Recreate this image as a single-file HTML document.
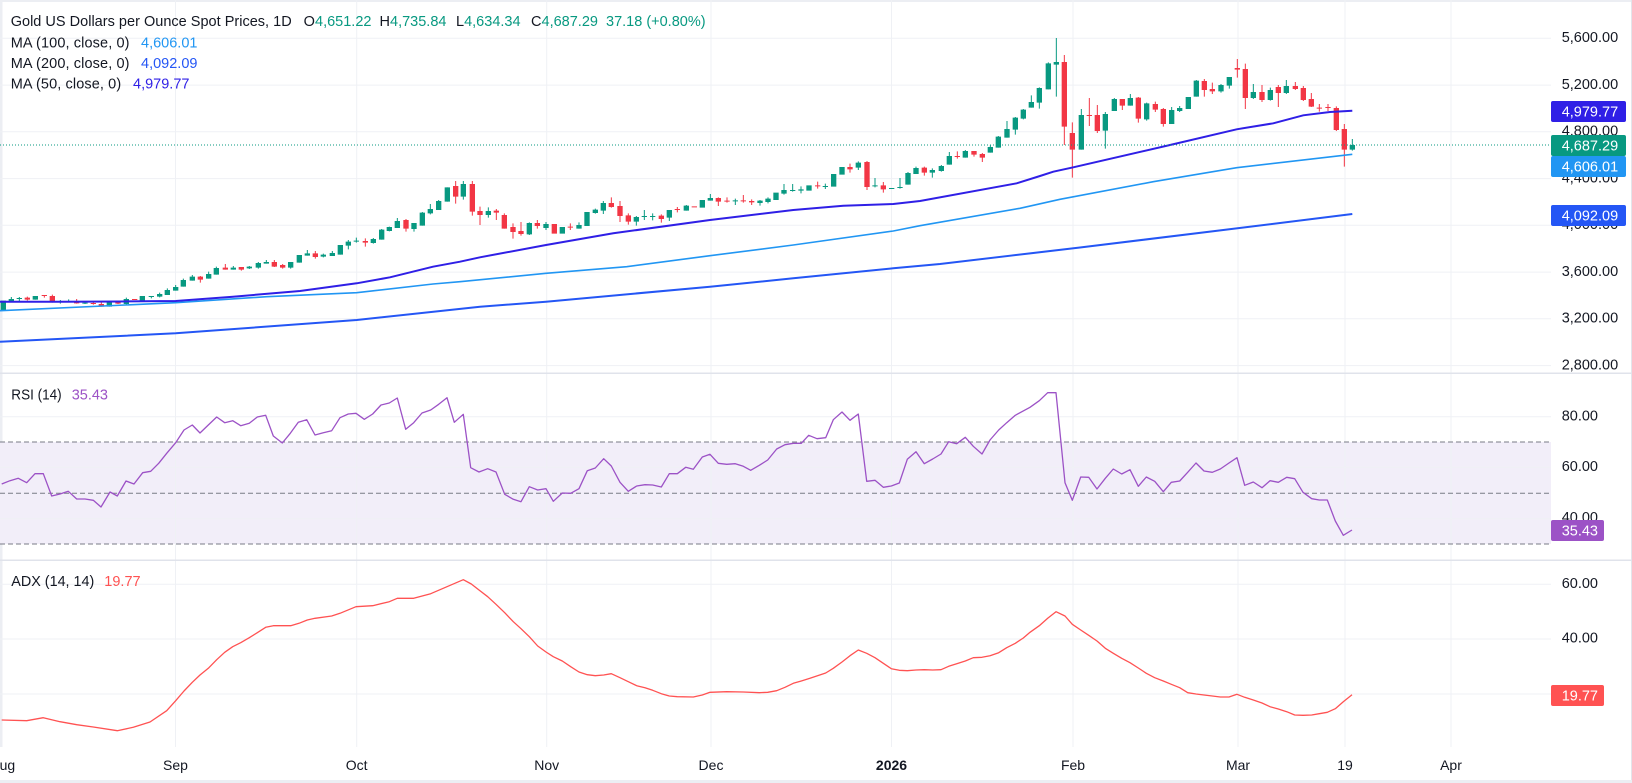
<!DOCTYPE html>
<html><head><meta charset="utf-8"><style>
html,body{margin:0;padding:0;background:#fff;overflow:hidden;width:1632px;height:783px}
svg{display:block}
text{font-family:"Liberation Sans",Arial,sans-serif}
</style></head><body>
<svg width="1632" height="783" viewBox="0 0 1632 783" xmlns="http://www.w3.org/2000/svg">
<rect x="0" y="0" width="1632" height="783" fill="#fff"/>
<!-- frame -->
<rect x="0" y="0" width="1632" height="2" fill="#eceef3"/>
<rect x="1631" y="0" width="1" height="783" fill="#e3e5eb"/>
<rect x="0" y="780" width="1632" height="3" fill="#eceef3"/>
<rect x="0" y="0" width="2.5" height="747" fill="#eceef3"/>
<!-- RSI band -->
<rect x="0" y="442" width="1551" height="102" fill="#f2eef9"/>
<!-- grid -->
<g stroke="#eff1f5" stroke-width="1">
<path d="M0,38.3H1551M0,85.1H1551M0,131.8H1551M0,178.6H1551M0,225.3H1551M0,272.1H1551M0,318.8H1551M0,365.6H1551"/>
<path d="M0,416.7H1551M0,467.3H1551M0,518.7H1551"/>
<path d="M0,584.3H1551M0,639H1551M0,694H1551"/>
<path d="M175.5,0V747M356.7,0V747M546.7,0V747M711,0V747M891.5,0V747M1073,0V747M1238,0V747M1345,0V747M1451,0V747"/>
</g>
<!-- RSI dashed levels -->
<g stroke="#787b86" stroke-width="1" stroke-dasharray="5,3">
<path d="M0,442H1551M0,493.3H1551M0,544H1551"/>
</g>
<!-- panel separators -->
<rect x="0" y="372.5" width="1632" height="1.5" fill="#e0e3eb"/>
<rect x="0" y="559.5" width="1632" height="1.5" fill="#e0e3eb"/>

<!-- candles zoom6 region -->
<g transform="translate(0,160) scale(0.333333)">
<path fill="#089981" d="M2,422h16v28h-16zM26,417h16v6h-16zM50,414h16v3h-16zM98,408h16v11h-16zM173,424h16v3h-16zM198,423h16v3h-16zM247,428h16v3h-16zM320,425h16v15h-16zM371,417h16v15h-16zM419,408h16v16h-16zM446,408h16v3h-16zM471,402h16v8h-16zM494,390h16v15h-16zM519,381h16v11h-16zM542,360h16v20h-16zM569,350h16v12h-16zM618,342h16v14h-16zM641,324h16v20h-16zM692,323h16v6h-16zM740,320h16v5h-16zM767,309h16v14h-16zM791,306h16v5h-16zM864,306h16v17h-16zM890,285h16v23h-16zM914,280h16v7h-16zM962,284h16v6h-16zM989,279h16v9h-16zM1013,255h16v29h-16zM1037,245h16v12h-16zM1061,242h16v3h-16zM1112,237h16v12h-16zM1137,209h16v30h-16zM1160,201h16v12h-16zM1184,183h16v21h-16zM1234,189h16v18h-16zM1259,158h16v39h-16zM1283,147h16v13h-16zM1308,123h16v27h-16zM1334,82h16v43h-16zM1382,72h16v38h-16z"/>
<path stroke="#089981" stroke-width="3" fill="none" d="M34,411V425M58,411V423M106,408V419M181,420V431M206,418V426M255,424V432M328,425V440M379,413V435M427,408V424M454,408V415M479,398V412M502,385V405M527,375V392M550,356V380M577,345V362M626,335V356M649,320V344M700,318V329M748,318V327M775,306V326M799,300V311M872,306V326M898,285V308M922,270V287M970,281V292M997,273V288M1021,255V284M1045,240V268M1069,233V248M1120,234V251M1145,207V239M1168,200V214M1192,174V204M1242,189V215M1267,156V197M1291,132V163M1316,120V150M1342,82V125M1390,63V119"/>
<path fill="#f23645" d="M74,413h16v6h-16zM125,405h16v3h-16zM149,408h16v19h-16zM222,423h16v7h-16zM272,429h16v3h-16zM296,432h16v8h-16zM346,425h16v6h-16zM396,417h16v3h-16zM593,350h16v9h-16zM668,323h16v6h-16zM716,321h16v8h-16zM815,306h16v14h-16zM840,315h16v8h-16zM938,280h16v11h-16zM1088,243h16v5h-16zM1210,180h16v26h-16zM1359,78h16v32h-16zM1409,72h16v83h-16z"/>
<path stroke="#f23645" stroke-width="3" fill="none" d="M82,410V422M133,405V413M157,404V428M230,417V431M280,423V434M304,424V440M354,422V432M601,348V368M676,312V329M724,321V332M823,300V321M848,312V326M946,273V296M1096,235V260M1218,177V215M1367,63V131M1417,63V167"/>
</g>
<!-- candles zoom7 region -->
<g transform="translate(460,110) scale(0.333333)">
<path fill="#089981" d="M77,303h16v12h-16zM200,339h16v34h-16zM250,342h16v12h-16zM299,351h16v20h-16zM349,345h16v11h-16zM373,306h16v42h-16zM398,299h16v10h-16zM422,279h16v23h-16zM521,321h16v14h-16zM545,318h16v3h-16zM570,318h16v3h-16zM620,300h16v23h-16zM671,287h16v15h-16zM719,270h16v23h-16zM743,264h16v8h-16zM818,271h16v3h-16zM892,272h16v7h-16zM916,266h16v10h-16zM940,248h16v22h-16zM964,240h16v11h-16zM990,240h16v3h-16zM1015,238h16v4h-16zM1039,226h16v16h-16zM1088,228h16v3h-16zM1113,192h16v38h-16zM1138,171h16v23h-16zM1187,158h16v15h-16zM1237,226h16v3h-16zM1287,234h16v3h-16zM1312,231h16v3h-16zM1336,189h16v35h-16zM1360,174h16v18h-16z"/>
<path stroke="#089981" stroke-width="3" fill="none" d="M85,292V323M208,337V375M258,336V360M357,337V356M406,296V311M430,273V312M529,318V347M553,300V330M578,310V331M628,300V333M679,285V302M751,252V272M826,266V285M900,270V287M924,262V280M972,222V254M998,222V245M1023,229V250M1096,221V237M1195,154V180M1245,204V232M1320,204V236M1344,186V224M1368,170V192"/>
<path fill="#f23645" d="M52,303h16v12h-16zM101,302h16v6h-16zM125,315h16v41h-16zM151,351h16v15h-16zM175,363h16v9h-16zM224,339h16v9h-16zM275,342h16v29h-16zM323,350h16v3h-16zM446,279h16v12h-16zM472,288h16v30h-16zM497,316h16v19h-16zM596,317h16v10h-16zM644,297h16v3h-16zM695,289h16v3h-16zM767,264h16v11h-16zM793,272h16v3h-16zM842,271h16v3h-16zM867,273h16v4h-16zM1065,226h16v3h-16zM1162,171h16v7h-16zM1213,156h16v75h-16zM1262,226h16v12h-16z"/>
<path stroke="#f23645" stroke-width="3" fill="none" d="M60,290V345M109,297V330M133,310V356M159,340V386M183,336V377M232,330V356M331,340V360M454,262V293M480,273V336M505,310V344M604,313V338M652,291V307M775,262V288M801,262V278M850,255V278M875,268V285M1073,215V236M1170,161V188M1221,153V240M1270,216V248"/>
</g>
<!-- candles zoom8 region -->
<g transform="translate(920,30) scale(0.333333)">
<path fill="#089981" d="M29,420h16v8h-16zM56,408h16v15h-16zM80,378h16v26h-16zM128,363h16v20h-16zM203,351h16v17h-16zM227,320h16v33h-16zM253,297h16v26h-16zM278,263h16v36h-16zM302,239h16v27h-16zM326,216h16v17h-16zM350,174h16v44h-16zM377,100h16v78h-16zM401,96h16v8h-16zM476,255h16v104h-16zM548,252h16v50h-16zM575,207h16v36h-16zM623,204h16v23h-16zM672,220h16v48h-16zM747,240h16v42h-16zM771,234h16v9h-16zM797,201h16v36h-16zM821,152h16v48h-16zM895,165h16v19h-16zM920,141h16v26h-16zM992,186h16v18h-16zM1043,180h16v30h-16zM1091,168h16v21h-16zM1289,345h16v14h-16z"/>
<path stroke="#089981" stroke-width="3" fill="none" d="M37,415V443M64,405V425M88,366V404M136,360V383M211,346V368M235,318V353M261,273V323M286,261V314M310,237V268M334,196V233M358,172V236M385,97V178M409,24V200M484,237V359M556,246V356M583,204V243M631,192V227M680,218V272M755,231V282M779,228V246M829,150V200M903,162V188M928,141V176M1000,162V207M1051,173V212M1099,150V192M1297,327V362"/>
<path fill="#f23645" d="M5,413h16v15h-16zM104,378h16v3h-16zM154,363h16v11h-16zM179,372h16v11h-16zM425,96h16v194h-16zM449,309h16v50h-16zM500,255h16v3h-16zM524,255h16v48h-16zM599,207h16v20h-16zM647,203h16v63h-16zM698,222h16v17h-16zM722,237h16v45h-16zM845,153h16v27h-16zM869,177h16v7h-16zM944,114h16v5h-16zM968,117h16v87h-16zM1018,186h16v24h-16zM1067,171h16v18h-16zM1118,168h16v9h-16zM1142,174h16v36h-16zM1166,207h16v23h-16zM1190,233h16v3h-16zM1216,231h16v3h-16zM1241,234h16v66h-16zM1265,297h16v62h-16z"/>
<path stroke="#f23645" stroke-width="3" fill="none" d="M13,410V437M112,364V386M162,363V380M187,369V396M433,75V345M457,277V443M508,204V288M532,225V309M607,207V240M655,201V278M706,215V246M730,234V290M853,147V200M877,158V192M952,87V143M976,101V237M1026,165V216M1075,165V231M1126,156V180M1150,168V213M1174,189V231M1198,222V245M1224,222V243M1249,229V303M1273,282V410"/>
</g>

<!-- moving averages -->
<polyline fill="none" stroke="#2456f5" stroke-width="2" points="0,341.7 175.7,333.3 356.7,320 480,306.7 546,301.7 710,286.7 793.3,278.3 893.3,268.3 940,264 1080,247.5 1223.3,230 1352.3,214"/>
<polyline fill="none" stroke="#2196f3" stroke-width="1.6" points="0,310.7 175.7,302.7 266.7,296.7 356.7,292.7 433,284 460,281.7 546,273.3 626.7,266.7 710,255.7 793.3,245 893.3,231 920,225.7 1020,208.3 1060,199.3 1153.3,181.7 1236.7,167.7 1352.3,154.3"/>
<polyline fill="none" stroke="#2f1fe6" stroke-width="2" points="0,301.7 60,301.7 120,301.5 175.7,301 233,296.7 300,291 356.7,283.3 390,277.3 433,266.7 460,261.7 480,257.3 546,245 613.3,233.3 710,220 793.3,210 843.3,205.7 893.3,204 920,201 1016.7,183.3 1040,176 1053.3,171.7 1073.3,167.3 1170,145 1236.7,129.3 1273.3,123.3 1303.3,115.3 1330,112 1352.3,110.7"/>
<!-- price line -->
<path d="M0,145H1551" stroke="#089981" stroke-width="1" stroke-dasharray="1,2"/>

<!-- RSI -->
<polyline fill="none" stroke="#9c52c6" stroke-width="1.3" stroke-linejoin="round" points="1.7,484 10,480.7 18.3,478.3 26.7,482.7 35,473.7 43.3,473.7 51.7,496 60,494 68.3,491.3 76.7,499 85,499 93.3,500.3 101,507 110,492 117.3,496 126,481 134,484 142.7,472.7 150.7,471.3 158.7,463.3 166.7,453.3 175.7,442.7 184,430 192.3,425 200,433 208.3,425 216.7,417 224.7,422.7 232.7,420.7 240.7,425.7 249.3,423.3 257.3,417 265.7,415.3 273.3,436 282.3,443 290.3,433.3 298.3,422.3 306.7,419.7 315,435 323.3,432.7 331.7,430.7 340,417.7 348.3,414 356,413.3 364.3,419.3 372.7,414 381,405 389.3,403 397.3,398 405.7,429.3 413.7,422.7 422,413 430.7,410 438.7,404.3 447,397.7 454.3,422.3 463.3,414.3 470.7,467.7 479,472 487.7,468.7 496,472 504.7,494.3 513.3,499.3 521,501.7 529.3,486.7 537.7,490 546,488.7 553.3,501.3 562.3,493 570.7,493.3 579,488.7 587.3,470.7 595.3,468 603.7,458.7 611.3,466 620,482.3 628.3,491.3 636.7,486 645,484.7 652.7,485 661.3,487 669.3,473.7 677.3,473.7 685.7,467.3 693.3,469.3 702.3,457 710,454.3 718.3,463.3 726.7,464.3 735.3,463.7 743.3,466.3 750.7,470.3 759.3,465.3 767.7,460 776.7,449 785,444.7 793.3,443.3 801.3,443.3 808.7,435.3 817,438.7 825.7,437.7 833.3,419.7 842,412 850,420.3 858.3,414 866.7,481.3 875,480.3 883.3,487.3 891.3,486 899.3,483 907.3,459.3 916,451.7 924.3,463.7 932.7,459 941,454 948.7,441.7 956.7,443.7 965.3,437.3 973.3,446.3 982,454 990,440 998.7,430 1006.7,422.7 1015.3,415.3 1030,407.3 1039.3,400.7 1047.7,392.7 1056,392.7 1065,482.7 1072.3,500.3 1080.7,477 1088.7,477.3 1097,489 1105.3,478.3 1113.3,469 1121.7,474 1130,469.7 1138.3,486.3 1146.3,477 1154.7,481.3 1163.3,491.7 1171.3,482.3 1179.7,481 1187.7,472.3 1196,463 1204,471 1212.3,472.3 1220.3,469 1229,463 1237,457.7 1244.7,485.3 1253.3,482 1262,487.7 1270,480.7 1278.3,482.3 1286.7,477.3 1294.7,478.7 1303,492.3 1311.7,498.7 1319.3,500 1327.3,500 1335.3,521 1343.3,535.3 1352,530"/>
<!-- ADX -->
<polyline fill="none" stroke="#ff5252" stroke-width="1.3" stroke-linejoin="round" points="1.7,720 26.7,720.7 43.3,717.7 60,721.7 76.7,724.7 93.3,727 117.3,730.7 133.3,727.3 150,722 166.7,710.7 175.7,700.7 184,691 192.3,682.3 200,675 208.3,668.3 216.7,659.7 224.7,652.3 232.7,646.7 240.7,642.7 249.3,637.7 257.3,632.7 265.7,627.3 273.3,625.7 290.7,625.7 299,623.3 307.3,620 315,618.3 331.7,616 340,613.3 356,606.7 372.7,605.7 389.3,601.7 397.3,598.3 413.7,598.3 430.7,593.7 447,586.7 463.3,579.7 471.3,584 479,590 487.7,596.7 496,604.3 504.7,612.7 513.3,621.7 521,628.7 529.3,636.7 537.7,646 546,652 553.3,656.7 562.3,661 570.7,666.7 579,672 587.3,674.7 595.3,675.7 603.7,675 611.3,673.7 620,677.7 628.3,681.7 636.7,685.7 645,687.7 652.7,690.3 661.3,693.7 669.3,696 677.3,696.7 693.3,697 702.3,695 710,692.3 726.7,691.7 743.3,692 759.3,692.7 767.7,692.3 776.7,690.7 785,687.3 793.3,683.3 801.3,681 810,678.3 825.7,673 833.3,668.3 842,662 850,655.7 858.3,650 866.7,653.3 875,657.7 883.3,663.3 891.3,668.7 899.3,670.3 907.3,670.7 916,670 924.3,669.7 932.7,670 941,669.7 948.7,666.3 956.7,663.7 965.3,661 973.3,657.7 982,657.3 990,655.7 998.7,652.7 1006.7,647.7 1015.3,643.3 1023.3,638 1030,632.3 1039.3,625.7 1047.7,618.3 1056,611.7 1065,616 1072.3,624.3 1080.7,630 1088.7,635.3 1097,641 1105.3,648.3 1113.3,653.3 1121.7,658.3 1130,662.7 1138.3,668 1146.3,673.3 1154.7,677.7 1163.3,681 1171.3,684.3 1179.7,687.7 1187.7,692.7 1196,694 1204,695 1212.3,696 1220.3,697 1229,697 1237,694.3 1244.7,697.3 1253.3,700 1262,703 1270,706.7 1278.3,709 1286.7,711.7 1294.7,715 1303,715.3 1311.7,715 1319.3,713.7 1327.3,712.3 1335.3,708.7 1343.3,701.7 1352,694.7"/>

<!-- price axis labels -->
<g font-size="14.5" fill="#131722">
<text x="1561.7" y="42.1">5,600.00</text>
<text x="1561.7" y="88.9">5,200.00</text>
<text x="1561.7" y="135.6">4,800.00</text>
<text x="1561.7" y="182.4">4,400.00</text>
<text x="1561.7" y="229.1">4,000.00</text>
<text x="1561.7" y="275.9">3,600.00</text>
<text x="1561.7" y="322.6">3,200.00</text>
<text x="1561.7" y="369.4">2,800.00</text>
<text x="1561.7" y="420.3">80.00</text>
<text x="1561.7" y="470.8">60.00</text>
<text x="1561.7" y="522">40.00</text>
<text x="1561.7" y="587.8">60.00</text>
<text x="1561.7" y="642.5">40.00</text>
<text x="1561.7" y="697.5">20.00</text>
</g>
<!-- value boxes -->
<rect x="1551" y="101" width="75" height="21" rx="2" fill="#2f1fe6"/>
<rect x="1551" y="135" width="75" height="21" rx="2" fill="#089981"/>
<rect x="1551" y="156" width="75" height="21" rx="2" fill="#2196f3"/>
<rect x="1551" y="205" width="75" height="21" rx="2" fill="#2456f5"/>
<rect x="1551" y="520" width="53" height="21" rx="2" fill="#9c52c6"/>
<rect x="1551" y="685" width="53" height="21" rx="2" fill="#ff5252"/>
<g font-size="14.5" fill="#ffffff">
<text x="1561.7" y="116.6">4,979.77</text>
<text x="1561.7" y="150.6">4,687.29</text>
<text x="1561.7" y="171.6">4,606.01</text>
<text x="1561.7" y="220.6">4,092.09</text>
<text x="1561.7" y="535.6">35.43</text>
<text x="1561.7" y="700.6">19.77</text>
</g>

<!-- legends -->
<g font-size="14.5" fill="#131722">
<text x="10.7" y="26" textLength="281" lengthAdjust="spacing">Gold US Dollars per Ounce Spot Prices, 1D</text>
<text x="303.6" y="26">O</text><text x="315" y="26" fill="#089981">4,651.22</text>
<text x="379.5" y="26">H</text><text x="390" y="26" fill="#089981">4,735.84</text>
<text x="456" y="26">L</text><text x="464.1" y="26" fill="#089981">4,634.34</text>
<text x="531" y="26">C</text><text x="541.5" y="26" fill="#089981">4,687.29</text>
<text x="606" y="26" fill="#089981">37.18 (+0.80%)</text>
<text x="10.7" y="47.6" textLength="118.8" lengthAdjust="spacing">MA (100, close, 0)</text>
<text x="141" y="47.6" fill="#2196f3">4,606.01</text>
<text x="10.7" y="68" textLength="118.8" lengthAdjust="spacing">MA (200, close, 0)</text>
<text x="141" y="68" fill="#2456f5">4,092.09</text>
<text x="10.7" y="88.6" textLength="110.5" lengthAdjust="spacing">MA (50, close, 0)</text>
<text x="133" y="88.6" fill="#2f1fe6">4,979.77</text>
<text x="11.3" y="399.3" textLength="50.4" lengthAdjust="spacingAndGlyphs">RSI (14)</text>
<text x="71.7" y="399.3" fill="#9c52c6">35.43</text>
<text x="11.3" y="586" textLength="83" lengthAdjust="spacingAndGlyphs">ADX (14, 14)</text>
<text x="104.3" y="586" fill="#ff5252">19.77</text>
</g>

<!-- time axis -->
<g font-size="14" fill="#131722" text-anchor="middle">
<text x="2.7" y="770">Aug</text>
<text x="175.5" y="770">Sep</text>
<text x="356.7" y="770">Oct</text>
<text x="546.7" y="770">Nov</text>
<text x="711" y="770">Dec</text>
<text x="891.5" y="770" font-weight="bold">2026</text>
<text x="1073" y="770">Feb</text>
<text x="1238" y="770">Mar</text>
<text x="1345" y="770">19</text>
<text x="1451" y="770">Apr</text>
</g>
</svg>
</body></html>
